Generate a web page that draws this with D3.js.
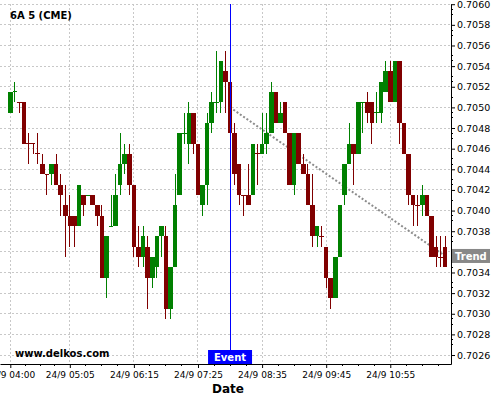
<!DOCTYPE html>
<html>
<head>
<meta charset="utf-8">
<script src="https://cdn.jsdelivr.net/npm/d3@7"></script>
<style>
  body { margin: 0; background: #fff; }
  svg { display: block; }
  text { font-family: "DejaVu Sans", Verdana, sans-serif; }
</style>
</head>
<body>
<div id="chart"></div>
<script>
// Chart data: 5 minute bars of 6A (CME), 24/9 from 04:00
const title = '6A 5 (CME)';
const startTime = '2024-09-24T04:00';
const barMinutes = 5;

const opens = [
  0.70495, 0.70515, 0.70505, 0.70505, 0.70465, 0.70465, 0.70455, 0.70445, 0.70435, 0.70435,
  0.70445, 0.70425, 0.70405, 0.70395, 0.70395, 0.70385, 0.70415, 0.70415, 0.70415, 0.70405,
  0.70395, 0.70335, 0.70385, 0.70385, 0.70425, 0.70445, 0.70455, 0.70425, 0.70365, 0.70355,
  0.70365, 0.70335, 0.70345, 0.70375, 0.70375, 0.70305, 0.70345, 0.70415, 0.70475, 0.70465,
  0.70495, 0.70465, 0.70405, 0.70425, 0.70485, 0.70505, 0.70505, 0.70535, 0.70525, 0.70475,
  0.70445, 0.70415, 0.70415, 0.70415, 0.70455, 0.70455, 0.70465, 0.70475, 0.70515, 0.70485,
  0.70505, 0.70475, 0.70425, 0.70475, 0.70445, 0.70435, 0.70405, 0.70375, 0.70375, 0.70365,
  0.70335, 0.70315, 0.70355, 0.70415, 0.70445, 0.70465, 0.70455, 0.70505, 0.70505, 0.70505,
  0.70495, 0.70495, 0.70515, 0.70535, 0.70505, 0.70545, 0.70485, 0.70455, 0.70415, 0.70405,
  0.70405, 0.70415, 0.70395, 0.70365, 0.70355, 0.70365
];
const highs = [
  0.70515, 0.70525, 0.70505, 0.70505, 0.70475, 0.70465, 0.70475, 0.70455, 0.70435, 0.70445,
  0.70455, 0.70435, 0.70425, 0.70415, 0.70395, 0.70425, 0.70415, 0.70415, 0.70415, 0.70405,
  0.70405, 0.70375, 0.70415, 0.70435, 0.70475, 0.70465, 0.70465, 0.70425, 0.70385, 0.70385,
  0.70375, 0.70355, 0.70375, 0.70385, 0.70385, 0.70345, 0.70435, 0.70475, 0.70495, 0.70505,
  0.70495, 0.70465, 0.70425, 0.70495, 0.70515, 0.70555, 0.70545, 0.70555, 0.70525, 0.70485,
  0.70445, 0.70415, 0.70445, 0.70465, 0.70465, 0.70495, 0.70495, 0.70525, 0.70515, 0.70505,
  0.70505, 0.70475, 0.70475, 0.70475, 0.70455, 0.70445, 0.70435, 0.70385, 0.70385, 0.70365,
  0.70335, 0.70355, 0.70405, 0.70445, 0.70485, 0.70465, 0.70505, 0.70505, 0.70515, 0.70505,
  0.70515, 0.70525, 0.70545, 0.70545, 0.70545, 0.70545, 0.70485, 0.70455, 0.70415, 0.70415,
  0.70425, 0.70415, 0.70395, 0.70375, 0.70375, 0.70375
];
const lows = [
  0.70495, 0.70505, 0.70495, 0.70465, 0.70445, 0.70455, 0.70445, 0.70435, 0.70415, 0.70425,
  0.70425, 0.70395, 0.70355, 0.70365, 0.70365, 0.70385, 0.70395, 0.70415, 0.70405, 0.70385,
  0.70335, 0.70315, 0.70385, 0.70385, 0.70415, 0.70435, 0.70415, 0.70355, 0.70345, 0.70345,
  0.70305, 0.70325, 0.70335, 0.70355, 0.70295, 0.70295, 0.70345, 0.70415, 0.70465, 0.70445,
  0.70455, 0.70415, 0.70395, 0.70405, 0.70475, 0.70495, 0.70495, 0.70495, 0.70475, 0.70425,
  0.70405, 0.70395, 0.70405, 0.70415, 0.70425, 0.70455, 0.70455, 0.70475, 0.70485, 0.70485,
  0.70475, 0.70425, 0.70415, 0.70445, 0.70435, 0.70405, 0.70365, 0.70365, 0.70365, 0.70325,
  0.70305, 0.70315, 0.70355, 0.70405, 0.70445, 0.70425, 0.70455, 0.70475, 0.70485, 0.70465,
  0.70485, 0.70485, 0.70515, 0.70505, 0.70505, 0.70465, 0.70455, 0.70405, 0.70385, 0.70385,
  0.70395, 0.70395, 0.70355, 0.70345, 0.70345, 0.70345
];
const closes = [
  0.70515, 0.70515, 0.70505, 0.70465, 0.70465, 0.70465, 0.70455, 0.70435, 0.70435, 0.70445,
  0.70425, 0.70415, 0.70395, 0.70385, 0.70385, 0.70425, 0.70405, 0.70415, 0.70405, 0.70395,
  0.70335, 0.70375, 0.70385, 0.70415, 0.70445, 0.70455, 0.70425, 0.70365, 0.70355, 0.70375,
  0.70335, 0.70355, 0.70375, 0.70385, 0.70305, 0.70345, 0.70405, 0.70475, 0.70475, 0.70495,
  0.70465, 0.70415, 0.70425, 0.70485, 0.70505, 0.70505, 0.70545, 0.70525, 0.70475, 0.70435,
  0.70415, 0.70415, 0.70405, 0.70465, 0.70455, 0.70465, 0.70475, 0.70515, 0.70485, 0.70495,
  0.70475, 0.70425, 0.70475, 0.70445, 0.70435, 0.70405, 0.70375, 0.70385, 0.70375, 0.70335,
  0.70315, 0.70355, 0.70405, 0.70445, 0.70465, 0.70455, 0.70505, 0.70505, 0.70495, 0.70485,
  0.70495, 0.70525, 0.70535, 0.70505, 0.70545, 0.70485, 0.70455, 0.70415, 0.70405, 0.70405,
  0.70415, 0.70395, 0.70355, 0.70355, 0.70355, 0.70345
];

const yTicks = [0.7026, 0.7028, 0.7030, 0.7032, 0.7034, 0.7036, 0.7038, 0.7040, 0.7042,
  0.7044, 0.7046, 0.7048, 0.7050, 0.7052, 0.7054, 0.7056, 0.7058, 0.7060];
const xTickTimes = ['04:00', '05:05', '06:15', '07:25', '08:35', '09:45', '10:55'];
const eventTime = '08:00';
const trendStart = { time: '08:00', price: 0.70500 };
const trendEnd = { time: '11:55', price: 0.70356 };

// Layout
const W = 500, H = 400;
const plot = { left: 0, top: 4, right: 451, bottom: 364 };
const upColor = '#008000', downColor = '#800000';

const parseTime = d3.timeParse('%Y-%m-%dT%H:%M');
const day = startTime.slice(0, 10);
const atTime = t => parseTime(day + 'T' + t);
const t0 = parseTime(startTime);

const bars = opens.map((o, i) => ({
  date: d3.timeMinute.offset(t0, i * barMinutes),
  open: o, high: highs[i], low: lows[i], close: closes[i]
}));
// colour: direction of the bar, doji bars follow the previous close
bars.forEach((b, i) => {
  if (b.close > b.open) b.up = true;
  else if (b.close < b.open) b.up = false;
  else if (i === 0) b.up = true;
  else if (b.close > bars[i - 1].close) b.up = true;
  else if (b.close < bars[i - 1].close) b.up = false;
  else b.up = bars[i - 1].up;
});

const x = d3.scaleTime()
  .domain([d3.timeSecond.offset(t0, -675), d3.timeSecond.offset(t0, 28880)])
  .range([plot.left, plot.right]);
const y = d3.scaleLinear()
  .domain([0.702513, 0.706002])
  .range([plot.bottom, plot.top]);

const barW = x(d3.timeMinute.offset(t0, barMinutes)) - x(t0);

const svg = d3.select('#chart').append('svg')
  .attr('width', W)
  .attr('height', H);

svg.append('rect').attr('width', W).attr('height', H).attr('fill', '#fff');

// grid
const grid = svg.append('g')
  .attr('stroke', '#c8c8c8')
  .attr('stroke-dasharray', '2,2')
  .attr('shape-rendering', 'crispEdges');
grid.selectAll('.hg')
  .data(yTicks)
  .enter().append('line')
  .attr('x1', plot.left).attr('x2', plot.right)
  .attr('y1', d => y(d)).attr('y2', d => y(d));
grid.selectAll('.vg')
  .data(xTickTimes)
  .enter().append('line')
  .attr('x1', d => x(atTime(d))).attr('x2', d => x(atTime(d)))
  .attr('y1', plot.top).attr('y2', plot.bottom);

// trend line (under the candles)
svg.append('line')
  .attr('x1', x(atTime(trendStart.time))).attr('y1', y(trendStart.price))
  .attr('x2', x(atTime(trendEnd.time))).attr('y2', y(trendEnd.price))
  .attr('stroke', '#8c8c8c')
  .attr('stroke-width', 2)
  .attr('stroke-dasharray', '2,2');

// candles
const candles = svg.append('g')
  .attr('shape-rendering', 'crispEdges')
  .selectAll('.candle')
  .data(bars)
  .enter().append('g')
  .attr('class', 'candle');

candles.append('line')
  .attr('x1', d => x(d.date)).attr('x2', d => x(d.date))
  .attr('y1', d => y(d.high)).attr('y2', d => y(d.low))
  .attr('stroke', d => d.up ? upColor : downColor);

candles.filter(d => d.open !== d.close).append('rect')
  .attr('x', d => x(d.date) - barW / 2)
  .attr('width', barW)
  .attr('y', d => y(Math.max(d.open, d.close)))
  .attr('height', d => y(Math.min(d.open, d.close)) - y(Math.max(d.open, d.close)))
  .attr('fill', d => d.up ? upColor : downColor);

candles.filter(d => d.open === d.close).append('line')
  .attr('x1', d => x(d.date) - barW / 2)
  .attr('x2', d => x(d.date) + barW / 2)
  .attr('y1', d => y(d.open)).attr('y2', d => y(d.open))
  .attr('stroke', d => d.up ? upColor : downColor);

// event line
const xEvent = x(atTime(eventTime));
svg.append('line')
  .attr('x1', xEvent).attr('x2', xEvent)
  .attr('y1', plot.top).attr('y2', plot.bottom)
  .attr('stroke', '#0000ff')
  .attr('shape-rendering', 'crispEdges');

// x axis
const xTickDates = xTickTimes.map(atTime);
const xAxis = svg.append('g')
  .attr('transform', `translate(0,${plot.bottom})`)
  .call(d3.axisBottom(x)
    .tickValues(xTickDates)
    .tickFormat(d3.timeFormat('%-d/%-m %H:%M'))
    .tickSize(4)
    .tickSizeOuter(0)
    .tickPadding(4));
xAxis.select('.domain').attr('stroke', '#000');
xAxis.selectAll('text')
  .attr('font-size', 9)
  .attr('font-family', '"DejaVu Sans", sans-serif')
  .attr('fill', '#000');

// minor x ticks, quarter steps between labels
const minorX = [];
xTickDates.forEach((d, i) => {
  const next = xTickDates[i + 1] || new Date(+d + (+xTickDates[1] - +xTickDates[0]) + 300000);
  for (let k = 1; k < 4; k++) minorX.push(new Date(+d + (+next - +d) * k / 4));
});
svg.append('g').selectAll('line')
  .data(minorX.filter(d => x(d) < plot.right))
  .enter().append('line')
  .attr('x1', d => x(d)).attr('x2', d => x(d))
  .attr('y1', plot.bottom).attr('y2', plot.bottom + 2)
  .attr('stroke', '#000')
  .attr('shape-rendering', 'crispEdges');

// y axis on the right; the label under the trend tag is hidden
const yTrend = y(trendEnd.price);
const yAxis = svg.append('g')
  .attr('transform', `translate(${plot.right},0)`)
  .call(d3.axisRight(y)
    .tickValues(yTicks)
    .tickFormat(d3.format('.4f'))
    .tickSize(4)
    .tickSizeOuter(0)
    .tickPadding(2));
yAxis.select('.domain').attr('stroke', '#000');
yAxis.selectAll('text')
  .attr('font-size', 9.5)
  .attr('font-family', '"DejaVu Sans", sans-serif')
  .attr('fill', '#000');
yAxis.selectAll('.tick')
  .filter(d => Math.abs(y(d) - yTrend) < 10)
  .select('text').remove();

const minorY = d3.range(0, 70).map(k => 0.70255 + k * 0.00005).filter(v => yTicks.indexOf(+v.toFixed(4)) < 0);
svg.append('g').selectAll('line')
  .data(minorY)
  .enter().append('line')
  .attr('x1', plot.right).attr('x2', plot.right + 2)
  .attr('y1', d => y(d)).attr('y2', d => y(d))
  .attr('stroke', '#000')
  .attr('shape-rendering', 'crispEdges');

// labels
svg.append('text')
  .attr('x', 10).attr('y', 19)
  .attr('font-size', 10).attr('font-weight', 'bold')
  .text(title);

svg.append('text')
  .attr('x', 15).attr('y', 357)
  .attr('font-size', 10).attr('font-weight', 'bold')
  .text('www.delkos.com');

svg.append('text')
  .attr('x', 228).attr('y', 393)
  .attr('text-anchor', 'middle')
  .attr('font-size', 12).attr('font-weight', 'bold')
  .text('Date');

// event tag
svg.append('rect')
  .attr('x', xEvent - 22).attr('y', plot.bottom - 14)
  .attr('width', 44).attr('height', 14)
  .attr('fill', '#0000ff');
svg.append('text')
  .attr('x', xEvent).attr('y', plot.bottom - 3)
  .attr('text-anchor', 'middle')
  .attr('font-size', 10).attr('font-weight', 'bold')
  .attr('fill', '#fff')
  .text('Event');

// trend tag
svg.append('rect')
  .attr('x', plot.right + 1).attr('y', yTrend - 7)
  .attr('width', 38).attr('height', 14)
  .attr('fill', '#888');
svg.append('text')
  .attr('x', plot.right + 4).attr('y', yTrend + 4)
  .attr('font-size', 10).attr('font-weight', 'bold')
  .attr('fill', '#fff')
  .text('Trend');
</script>
</body>
</html>
